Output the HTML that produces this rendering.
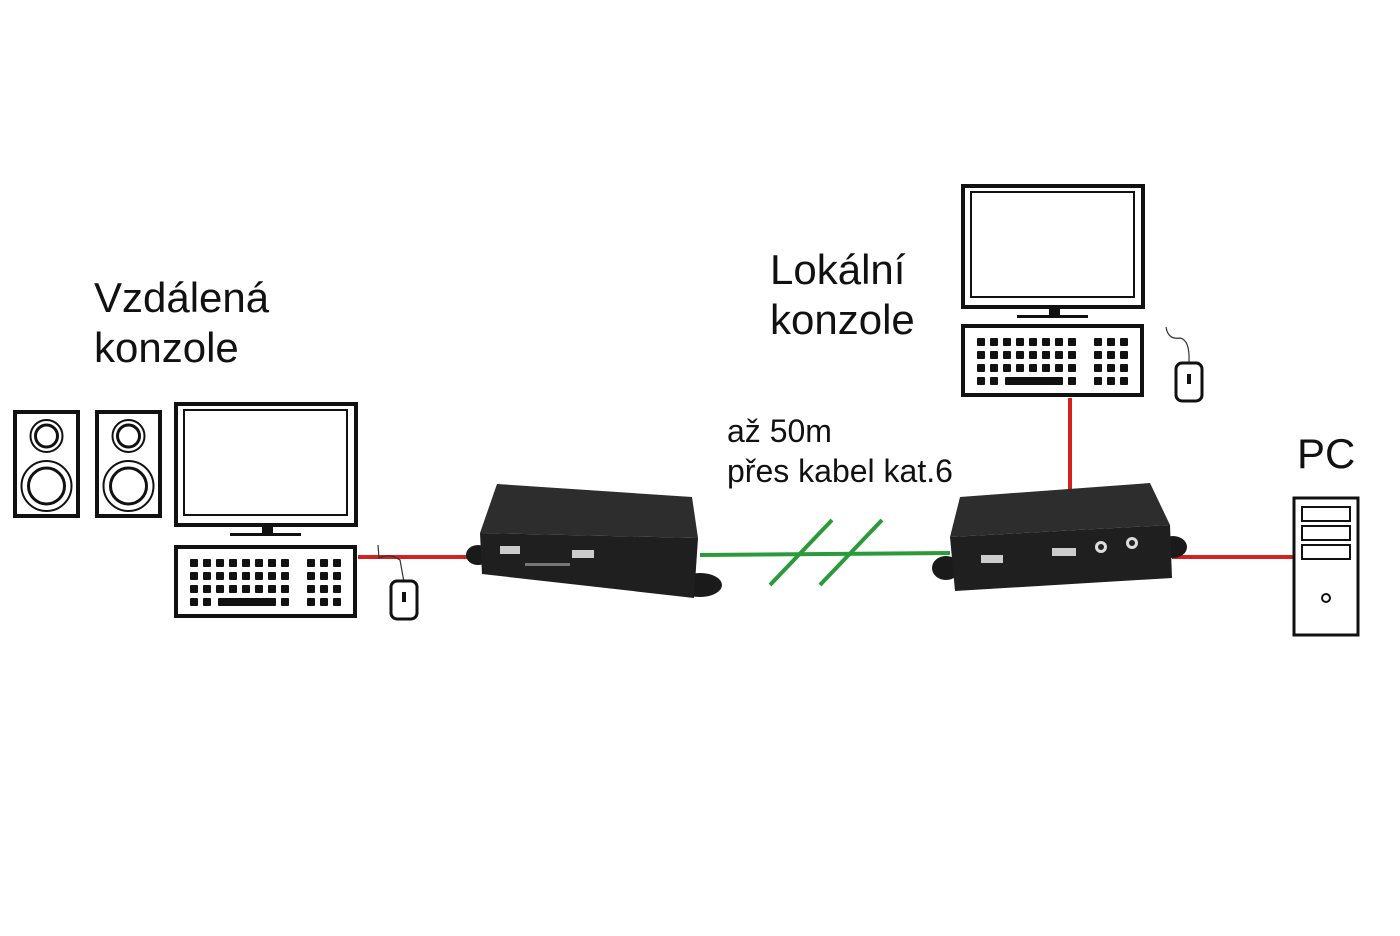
<!DOCTYPE html>
<html><head><meta charset="utf-8"><style>
html,body{margin:0;padding:0;background:#fff;width:1400px;height:936px;overflow:hidden}
svg{display:block}
text{font-family:"Liberation Sans",sans-serif;fill:#111}
</style></head><body>
<svg width="1400" height="936" viewBox="0 0 1400 936">
<defs>
<pattern id="keys" x="0" y="0" width="13" height="13" patternUnits="userSpaceOnUse"><rect x="0" y="0" width="8" height="8" rx="1" fill="#111"/></pattern>
<g id="mon">
<rect x="2" y="2" width="180" height="121" fill="#fff" stroke="#111" stroke-width="4"/>
<rect x="10" y="8" width="163" height="105" fill="#fff" stroke="#111" stroke-width="2"/>
<rect x="88" y="123" width="11" height="9" fill="#111"/>
<rect x="56" y="131" width="71" height="3" fill="#111"/>
</g>
<g id="kb">
<rect x="2" y="2" width="179" height="69" fill="#fff" stroke="#111" stroke-width="4"/>
<g transform="translate(16,14)">
<rect x="0" y="0" width="104" height="39" fill="url(#keys)"/>
<rect x="0" y="39" width="21" height="13" fill="url(#keys)"/>
<rect x="91" y="39" width="13" height="13" fill="url(#keys)"/>
<rect x="28" y="39" width="58" height="8" rx="1" fill="#111"/>
<rect x="116" y="0" width="39" height="52" fill="url(#keys)"/>
</g>
</g>
<g id="spk">
<rect x="2" y="2" width="63" height="104" fill="#fff" stroke="#111" stroke-width="4"/>
<circle cx="33.5" cy="26" r="16" fill="none" stroke="#111" stroke-width="2"/>
<circle cx="33.5" cy="26" r="11" fill="none" stroke="#111" stroke-width="3"/>
<circle cx="33.5" cy="76" r="25" fill="none" stroke="#111" stroke-width="2"/>
<circle cx="33.5" cy="76" r="18" fill="none" stroke="#111" stroke-width="3"/>
</g>
<g id="mouse">
<rect x="1" y="1" width="26" height="38" rx="6" fill="#fff" stroke="#111" stroke-width="3"/>
<rect x="12" y="12" width="4" height="10" fill="#111"/>
</g>
</defs>

<line x1="358" y1="557" x2="478" y2="557" stroke="#d6201f" stroke-width="4"/>
<line x1="700" y1="555" x2="950" y2="553" stroke="#2a9a3a" stroke-width="4"/>
<line x1="770" y1="585" x2="832" y2="520" stroke="#2a9a3a" stroke-width="4"/>
<line x1="820" y1="585" x2="882" y2="520" stroke="#2a9a3a" stroke-width="4"/>
<line x1="1172" y1="557" x2="1294" y2="557" stroke="#d6201f" stroke-width="4"/>
<line x1="1070" y1="398" x2="1070" y2="492" stroke="#d6201f" stroke-width="4"/>

<use href="#spk" x="13" y="410"/>
<use href="#spk" x="95" y="410"/>
<use href="#mon" x="174" y="402"/>
<use href="#kb" x="174" y="545"/>
<path d="M378 545 L379 558 Q390 553 400 560 L404 582" fill="none" stroke="#333" stroke-width="1.2"/>
<use href="#mouse" x="390" y="580"/>

<use href="#mon" x="961" y="184"/>
<use href="#kb" x="961" y="324"/>
<path d="M1166 327 Q1168 340 1180 338 Q1190 340 1189 362" fill="none" stroke="#333" stroke-width="1.2"/>
<use href="#mouse" x="1175" y="362"/>

<rect x="1294" y="498" width="64" height="137" fill="#fff" stroke="#111" stroke-width="3"/>
<rect x="1302" y="507" width="48" height="14" fill="#fff" stroke="#111" stroke-width="2"/>
<rect x="1302" y="526" width="48" height="14" fill="#fff" stroke="#111" stroke-width="2"/>
<rect x="1302" y="545" width="48" height="14" fill="#fff" stroke="#111" stroke-width="2"/>
<circle cx="1326" cy="598" r="4" fill="none" stroke="#111" stroke-width="2"/>

<ellipse cx="478" cy="555" rx="12" ry="10" fill="#1a1a1a"/>
<ellipse cx="700" cy="585" rx="22" ry="12" fill="#1a1a1a"/>
<polygon points="497,484 692,497 698,538 480,533" fill="#2d2d2d"/>
<polygon points="480,533 698,538 694,598 482,574" fill="#1f1f1f"/>
<rect x="500" y="546" width="20" height="8" fill="#ccc"/>
<rect x="572" y="550" width="22" height="8" fill="#ccc"/>
<rect x="525" y="563" width="45" height="3" fill="#777"/>

<ellipse cx="946" cy="568" rx="14" ry="12" fill="#1a1a1a"/>
<ellipse cx="1173" cy="547" rx="14" ry="11" fill="#1a1a1a"/>
<polygon points="960,497 1150,483 1170,525 950,537" fill="#2d2d2d"/>
<polygon points="950,537 1170,525 1172,578 955,591" fill="#1f1f1f"/>
<rect x="981" y="555" width="22" height="8" fill="#ccc"/>
<rect x="1052" y="548" width="24" height="8" fill="#ccc"/>
<circle cx="1101" cy="547" r="6" fill="#ddd"/><circle cx="1101" cy="547" r="3" fill="#222"/>
<circle cx="1132" cy="543" r="6" fill="#ddd"/><circle cx="1132" cy="543" r="3" fill="#222"/>

<text x="94" y="312" font-size="42">Vzdálená</text>
<text x="94" y="362" font-size="42">konzole</text>
<text x="770" y="284" font-size="42">Lokální</text>
<text x="770" y="334" font-size="42">konzole</text>
<text x="727" y="442" font-size="32">až 50m</text>
<text x="727" y="482" font-size="32">přes kabel kat.6</text>
<text x="1297" y="468" font-size="42">PC</text>
</svg>
</body></html>
